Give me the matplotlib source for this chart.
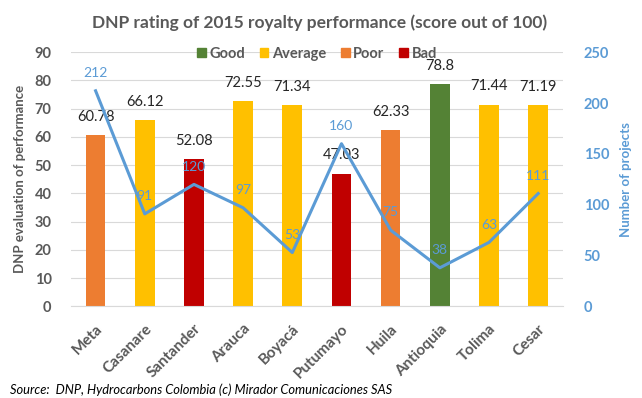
import matplotlib.pyplot as plt
from matplotlib.patches import Patch

departments = ["Meta", "Casanare", "Santander", "Arauca", "Boyacá",
               "Putumayo", "Huila", "Antioquia", "Tolima", "Cesar"]
scores = [60.78, 66.12, 52.08, 72.55, 71.34, 47.03, 62.33, 78.8, 71.44, 71.19]
ratings = ["Poor", "Average", "Bad", "Average", "Average",
           "Bad", "Poor", "Good", "Average", "Average"]
projects = [212, 91, 120, 97, 53, 160, 75, 38, 63, 111]

rating_colors = {"Good": "#548235", "Average": "#FFC000",
                 "Poor": "#ED7D31", "Bad": "#C00000"}
gray = "#595959"
blue = "#5B9BD5"

plt.rcParams['font.family'] = ['Lato', 'DejaVu Sans']

fig = plt.figure(figsize=(6.42, 3.98), dpi=100)
ax1 = fig.add_axes([0.1106, 0.230, 0.766, 0.639])

x = range(len(departments))
colors = [rating_colors[r] for r in ratings]
ax1.bar(x, scores, width=0.4, color=colors, zorder=2)
for i, s in zip(x, scores):
    ax1.text(i, s + 6.4, f"{s:g}", ha='center', va='center', fontsize=10.5,
             color="#262626", zorder=4)

ax1.set_ylim(0, 90)
ax1.set_xlim(-0.5, len(departments) - 0.5)
ax1.set_yticks(range(0, 91, 10))
ax1.grid(axis='y', color="#D9D9D9", linewidth=0.8, zorder=0)
ax1.set_axisbelow(True)
for side in ['top', 'right', 'left']:
    ax1.spines[side].set_visible(False)
ax1.spines['bottom'].set_color("#D9D9D9")
ax1.tick_params(axis='y', length=0, colors=gray, labelsize=10.5, pad=14)
ax1.tick_params(axis='x', length=0, colors=gray, labelsize=11, pad=11)
for lbl in ax1.get_yticklabels():
    lbl.set_fontweight('bold')
ax1.set_xticks(list(x))
ax1.set_xticklabels(departments, rotation=45, ha='right', rotation_mode='anchor',
                    fontweight='bold')
ax1.set_ylabel("DNP evaluation of performance", color=gray, fontweight='bold',
               fontsize=9.5, labelpad=6)

ax2 = ax1.twinx()
ax2.plot(list(x), projects, color=blue, linewidth=2.2, zorder=3)
for i, p in zip(x, projects):
    ax2.text(i, p + 17.5, str(p), ha='center', va='center', fontsize=10,
             color=blue, zorder=4)
ax2.set_ylim(0, 250)
ax2.set_yticks(range(0, 251, 50))
for side in ['top', 'right', 'left', 'bottom']:
    ax2.spines[side].set_visible(False)
ax2.tick_params(axis='y', length=0, colors=blue, labelsize=10.5, pad=15)
for lbl in ax2.get_yticklabels():
    lbl.set_fontweight('bold')
ax2.set_ylabel("Number of projects", color=blue, fontweight='bold',
               fontsize=9.5, labelpad=8)

handles = [Patch(color=rating_colors[k], label=k) for k in ["Good", "Average", "Poor", "Bad"]]
leg = ax1.legend(handles=handles, loc='center', bbox_to_anchor=(0.5, 0.993),
                 ncol=4, frameon=False, fontsize=10.5, handlelength=0.6,
                 handleheight=0.6, handletextpad=0.25, columnspacing=1.0)
for t in leg.get_texts():
    t.set_color(gray)
    t.set_fontweight('bold')

fig.suptitle("DNP rating of 2015 royalty performance (score out of 100)",
             x=0.497, y=0.942, va='center', fontsize=12.5, fontweight='bold', color=gray)
fig.text(0.015, 0.02, "Source:  DNP, Hydrocarbons Colombia (c) Mirador Comunicaciones SAS",
         fontsize=9.3, style='italic', color="#000000", va='center')

fig.savefig("out.png", dpi=100)
